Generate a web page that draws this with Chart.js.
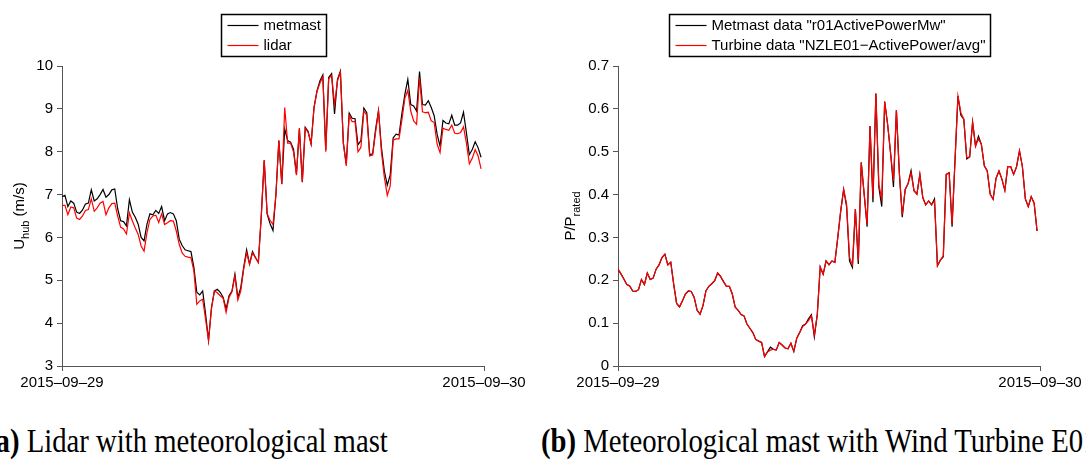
<!DOCTYPE html>
<html>
<head>
<meta charset="utf-8">
<script src="https://cdn.jsdelivr.net/npm/chart.js@4.4.1/dist/chart.umd.min.js"></script>
<style>
 body { margin:0; width:1086px; height:460px; overflow:hidden; background:#fff; position:relative; }
 canvas { position:absolute; top:0; }
 #chartA { left:0; }
 #chartB { left:543px; }
 .caption { position:absolute; top:425px; font-family:"Liberation Serif","Times New Roman",serif; font-size:33px; line-height:33px; white-space:nowrap; color:#000; transform:scaleX(0.87); transform-origin:0 0; }
</style>
</head>
<body>
<canvas id="chartA" width="543" height="400"></canvas>
<canvas id="chartB" width="543" height="400"></canvas>
<div class="caption" style="left:-14px"><b>(a)</b> Lidar with meteorological mast</div>
<div class="caption" style="left:541px"><b>(b)</b> Meteorological mast with Wind Turbine E01</div>
<script>
// 10-minute values, 2015-09-29 00:00 .. 23:50
var metmastSpeed = [
 6.95, 6.98, 6.72, 6.85, 6.80, 6.59, 6.56, 6.64, 6.78, 6.80,
 7.11, 6.85, 6.90, 7.00, 7.12, 6.94, 7.00, 7.11, 7.13, 6.67,
 6.39, 6.37, 6.27, 6.88, 6.59, 6.47, 6.31, 6.00, 5.92, 6.31,
 6.55, 6.53, 6.63, 6.56, 6.72, 6.39, 6.55, 6.58, 6.55, 6.39,
 5.96, 5.81, 5.71, 5.69, 5.67, 5.30, 4.72, 4.66, 4.75, 4.21,
 3.60, 4.36, 4.75, 4.79, 4.72, 4.60, 4.33, 4.64, 4.75, 5.14,
 4.60, 4.83, 5.30, 5.71, 5.38, 5.67, 5.53, 5.42, 6.50, 7.80,
 6.55, 6.32, 6.16, 7.00, 8.26, 7.25, 8.53, 8.26, 8.22, 8.06,
 7.48, 8.53, 7.29, 8.57, 8.47, 8.18, 9.03, 9.42, 9.65, 9.79,
 8.04, 9.73, 9.82, 8.88, 9.69, 9.88, 8.20, 7.72, 8.90, 8.78,
 8.77, 8.16, 8.26, 9.02, 8.91, 7.93, 7.95, 8.52, 8.96, 8.10,
 7.55, 7.22, 7.46, 8.32, 8.41, 8.39, 8.90, 9.34, 9.69, 9.10,
 9.07, 8.95, 9.87, 9.10, 9.09, 9.19, 9.03, 8.84, 8.41, 8.13,
 8.73, 8.67, 8.65, 8.85, 8.62, 8.62, 8.67, 8.92, 8.44, 7.93,
 8.05, 8.23, 8.09, 7.87
];
var lidarSpeed = [
 6.75, 6.75, 6.53, 6.71, 6.69, 6.45, 6.42, 6.50, 6.63, 6.65,
 6.90, 6.61, 6.69, 6.80, 6.84, 6.53, 6.69, 6.79, 6.80, 6.50,
 6.24, 6.20, 6.08, 6.57, 6.39, 6.22, 6.07, 5.80, 5.68, 6.11,
 6.42, 6.50, 6.52, 6.35, 6.55, 6.30, 6.34, 6.39, 6.38, 6.15,
 5.84, 5.64, 5.56, 5.54, 5.53, 5.22, 4.44, 4.52, 4.56, 4.09,
 3.59, 4.33, 4.75, 4.71, 4.64, 4.58, 4.25, 4.60, 4.73, 5.10,
 4.54, 4.75, 5.26, 5.64, 5.37, 5.64, 5.53, 5.41, 6.50, 7.80,
 6.55, 6.40, 6.30, 7.00, 8.26, 7.24, 9.03, 8.20, 8.20, 8.00,
 7.45, 8.55, 7.30, 8.55, 8.45, 8.18, 9.03, 9.40, 9.60, 9.75,
 8.00, 9.70, 9.78, 9.10, 9.65, 9.85, 8.20, 7.67, 8.85, 8.70,
 8.70, 8.00, 8.10, 8.95, 8.85, 7.90, 7.92, 8.45, 8.95, 8.00,
 7.40, 6.98, 7.20, 8.27, 8.30, 8.30, 8.75, 9.25, 9.43, 8.95,
 8.72, 8.64, 9.73, 8.93, 8.91, 8.92, 8.72, 8.68, 8.18, 7.98,
 8.55, 8.52, 8.50, 8.62, 8.43, 8.42, 8.45, 8.58, 8.20, 7.72,
 7.85, 8.05, 7.90, 7.60
];
var metmastPower = [
 0.226, 0.215, 0.203, 0.190, 0.187, 0.175, 0.174, 0.178, 0.202, 0.190,
 0.217, 0.202, 0.205, 0.226, 0.236, 0.253, 0.261, 0.236, 0.242, 0.191,
 0.146, 0.138, 0.152, 0.168, 0.175, 0.174, 0.160, 0.130, 0.121, 0.141,
 0.175, 0.186, 0.192, 0.199, 0.217, 0.209, 0.197, 0.186, 0.186, 0.168,
 0.137, 0.130, 0.120, 0.117, 0.098, 0.088, 0.078, 0.062, 0.058, 0.055,
 0.022, 0.033, 0.044, 0.039, 0.037, 0.055, 0.049, 0.042, 0.040, 0.053,
 0.034, 0.065, 0.078, 0.094, 0.098, 0.110, 0.120, 0.068, 0.120, 0.231,
 0.214, 0.245, 0.236, 0.245, 0.242, 0.300, 0.362, 0.412, 0.372, 0.245,
 0.230, 0.366, 0.238, 0.475, 0.401, 0.325, 0.560, 0.382, 0.636, 0.418,
 0.372, 0.617, 0.564, 0.498, 0.418, 0.597, 0.451, 0.347, 0.412, 0.426,
 0.456, 0.409, 0.401, 0.447, 0.393, 0.376, 0.385, 0.376, 0.390, 0.234,
 0.247, 0.255, 0.447, 0.451, 0.325, 0.480, 0.630, 0.585, 0.576, 0.483,
 0.488, 0.569, 0.513, 0.536, 0.517, 0.467, 0.455, 0.401, 0.389, 0.438,
 0.455, 0.436, 0.410, 0.465, 0.465, 0.447, 0.465, 0.502, 0.465, 0.390,
 0.372, 0.395, 0.380, 0.315
];
var turbinePower = [
 0.226, 0.215, 0.203, 0.190, 0.187, 0.175, 0.174, 0.178, 0.202, 0.190,
 0.217, 0.202, 0.205, 0.226, 0.236, 0.253, 0.261, 0.236, 0.242, 0.191,
 0.146, 0.138, 0.152, 0.168, 0.175, 0.174, 0.160, 0.130, 0.121, 0.141,
 0.175, 0.186, 0.192, 0.199, 0.217, 0.209, 0.197, 0.186, 0.186, 0.168,
 0.137, 0.130, 0.120, 0.117, 0.098, 0.088, 0.078, 0.062, 0.058, 0.055,
 0.022, 0.033, 0.037, 0.039, 0.037, 0.055, 0.049, 0.042, 0.040, 0.053,
 0.034, 0.065, 0.078, 0.092, 0.098, 0.106, 0.117, 0.073, 0.120, 0.231,
 0.214, 0.245, 0.236, 0.245, 0.242, 0.300, 0.362, 0.412, 0.378, 0.253,
 0.236, 0.366, 0.245, 0.475, 0.401, 0.331, 0.560, 0.395, 0.636, 0.424,
 0.390, 0.617, 0.564, 0.498, 0.432, 0.597, 0.451, 0.353, 0.412, 0.426,
 0.451, 0.409, 0.401, 0.447, 0.393, 0.376, 0.385, 0.376, 0.385, 0.234,
 0.247, 0.257, 0.447, 0.451, 0.331, 0.480, 0.630, 0.591, 0.576, 0.486,
 0.488, 0.569, 0.513, 0.531, 0.517, 0.467, 0.455, 0.401, 0.389, 0.438,
 0.455, 0.436, 0.410, 0.465, 0.465, 0.447, 0.465, 0.502, 0.465, 0.390,
 0.372, 0.395, 0.380, 0.315
];

// x axis runs over one day in 10 minute steps
var dayTicks = [0, 144];
var dayLabels = ['2015\u201309\u201329', '2015\u201309\u201330'];
var speedTicks = [3, 4, 5, 6, 7, 8, 9, 10];
var speedLabels = ['3', '4', '5', '6', '7', '8', '9', '10'];
var powerTicks = [0, 0.1, 0.2, 0.3, 0.4, 0.5, 0.6, 0.7];
var powerLabels = ['0', '0.1', '0.2', '0.3', '0.4', '0.5', '0.6', '0.7'];

var SANS = '"Liberation Sans", Arial, Helvetica, sans-serif';
Chart.defaults.font.family = SANS;
Chart.defaults.font.size = 15;
Chart.defaults.color = '#000';

// legend with a frame, centred above the plot
var boxLegend = {
  id: 'boxLegend',
  afterDraw: function (chart) {
    var ctx = chart.ctx;
    var area = chart.chartArea;
    var sets = chart.data.datasets;
    ctx.save();
    ctx.font = '15px ' + SANS;
    var textW = 0;
    for (var i = 0; i < sets.length; i++) {
      textW = Math.max(textW, ctx.measureText(sets[i].label).width);
    }
    var w = Math.round(7 + 30 + 5 + textW + 5);
    var h = 42;
    var left = Math.round((area.left + area.right) / 2 - w / 2) + 0.5;
    var top = 14.5;
    ctx.fillStyle = '#fff';
    ctx.fillRect(left, top, w, h);
    ctx.strokeStyle = '#000';
    ctx.lineWidth = 1.5;
    ctx.strokeRect(left, top, w, h);
    for (var j = 0; j < sets.length; j++) {
      var y = top + 11 + j * 20;
      ctx.strokeStyle = sets[j].borderColor;
      ctx.lineWidth = 1.2;
      ctx.beginPath();
      ctx.moveTo(left + 6, y);
      ctx.lineTo(left + 37, y);
      ctx.stroke();
      ctx.fillStyle = '#000';
      ctx.textBaseline = 'middle';
      ctx.fillText(sets[j].label, left + 42, y + 0.5);
    }
    ctx.restore();
  }
};

// rotated y title with a subscript part
var subTitle = {
  id: 'subTitle',
  afterDraw: function (chart, args, opts) {
    var ctx = chart.ctx;
    var area = chart.chartArea;
    var big = '15px ' + SANS, small = '11px ' + SANS;
    ctx.save();
    ctx.font = big;
    var w1 = ctx.measureText(opts.main).width;
    var w3 = ctx.measureText(opts.tail).width;
    ctx.font = small;
    var w2 = ctx.measureText(opts.sub).width;
    var total = w1 + w2 + w3;
    ctx.translate(opts.x, (area.top + area.bottom) / 2);
    ctx.rotate(-Math.PI / 2);
    ctx.fillStyle = '#000';
    ctx.textBaseline = 'alphabetic';
    var x = -total / 2;
    ctx.font = big;
    ctx.fillText(opts.main, x, 0);
    ctx.font = small;
    ctx.fillText(opts.sub, x + w1, 5);
    ctx.font = big;
    ctx.fillText(opts.tail, x + w1 + w2, 0);
    ctx.restore();
  }
};

function toPoints(values) {
  return values.map(function (v, i) { return { x: i, y: v }; });
}

function drawPanel(canvasId, sets, yTicks, yLabels, yWidth, rightPad, title) {
  var ctx = document.getElementById(canvasId).getContext('2d');
  return new Chart(ctx, {
    type: 'line',
    data: {
      datasets: [
        { label: sets[0].label, data: toPoints(sets[0].values), borderColor: '#000000', borderWidth: 1.2, pointRadius: 0, tension: 0, fill: false, order: 1 },
        { label: sets[1].label, data: toPoints(sets[1].values), borderColor: '#ff0000', borderWidth: 1.2, pointRadius: 0, tension: 0, fill: false, order: 0 }
      ]
    },
    options: {
      responsive: false,
      animation: false,
      devicePixelRatio: 1,
      layout: { padding: { top: 66, right: rightPad, left: 0, bottom: 0 } },
      plugins: {
        legend: { display: false },
        tooltip: { enabled: false },
        subTitle: title
      },
      scales: {
        x: {
          type: 'linear',
          min: dayTicks[0],
          max: dayTicks[dayTicks.length - 1],
          afterBuildTicks: function (s) { s.ticks = dayTicks.map(function (v) { return { value: v }; }); },
          afterFit: function (s) { s.height = 34; },
          ticks: {
            autoSkip: false, maxRotation: 0, padding: 3,
            callback: function (v) { return dayLabels[dayTicks.indexOf(v)]; }
          },
          grid: { drawOnChartArea: false, drawTicks: true, tickLength: 5, color: '#555', lineWidth: 1 },
          border: { display: true, color: '#555', width: 1 }
        },
        y: {
          type: 'linear',
          min: yTicks[0],
          max: yTicks[yTicks.length - 1],
          afterBuildTicks: function (s) { s.ticks = yTicks.map(function (v) { return { value: v }; }); },
          afterFit: function (s) { s.width = yWidth; },
          ticks: {
            autoSkip: false, padding: 4,
            callback: function (v) { return yLabels[yTicks.indexOf(v)]; }
          },
          grid: { drawOnChartArea: false, drawTicks: true, tickLength: 5, color: '#555', lineWidth: 1 },
          border: { display: true, color: '#555', width: 1 }
        }
      }
    },
    plugins: [boxLegend, subTitle]
  });
}

drawPanel('chartA',
  [{ label: 'metmast', values: metmastSpeed }, { label: 'lidar', values: lidarSpeed }],
  speedTicks, speedLabels, 62, 59,
  { main: 'U', sub: 'hub', tail: ' (m/s)', x: 24 });

drawPanel('chartB',
  [{ label: 'Metmast data "r01ActivePowerMw"', values: metmastPower },
   { label: 'Turbine data "NZLE01\u2212ActivePower/avg"', values: turbinePower }],
  powerTicks, powerLabels, 75, 46,
  { main: 'P/P', sub: 'rated', tail: '', x: 32 });
</script>
</body>
</html>
